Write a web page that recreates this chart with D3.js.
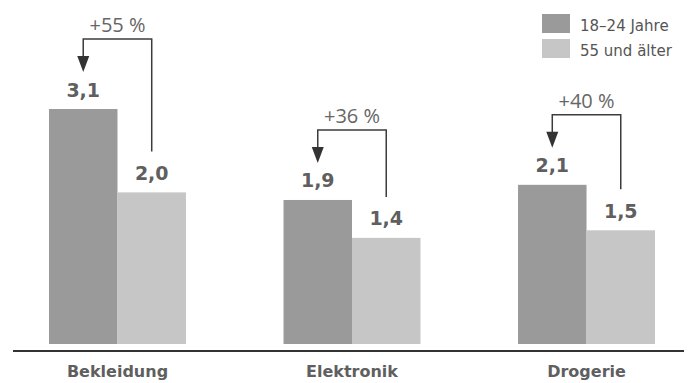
<!DOCTYPE html>
<html lang="de">
<head>
<meta charset="utf-8">
<script src="https://cdn.jsdelivr.net/npm/d3@7"></script>
<style>
  html, body { margin: 0; padding: 0; background: #fff; }
  svg { display: block; }
</style>
</head>
<body>
<svg id="chart" width="689" height="383"></svg>
<script>
// Categories, age groups and average values per group
const categories = ["Bekleidung", "Elektronik", "Drogerie"];
const seriesNames = ["18–24 Jahre", "55 und älter"];
const youngValues = [3.1, 1.9, 2.1];
const olderValues = [2.0, 1.4, 1.5];
const increasePct = [55, 36, 40];

const colors = { "18–24 Jahre": "#9a9a9a", "55 und älter": "#c5c6c5" };
const textGrey = "#5f5f5f";
const lineDark = "#3c3c3c";

const svg = d3.select("#chart");

const baseY = 344;
const y = d3.scaleLinear().domain([0, 4]).range([baseY, baseY - 4 * 75.8]);

const x0 = d3.scaleBand()
  .domain(categories)
  .range([49, 655])
  .paddingInner(0.416)
  .paddingOuter(0);

const x1 = d3.scaleBand()
  .domain(seriesNames)
  .range([0, x0.bandwidth()])
  .padding(0);

const rows = categories.map((c, i) => ({
  category: c,
  values: [
    { key: seriesNames[0], value: youngValues[i] },
    { key: seriesNames[1], value: olderValues[i] }
  ],
  pct: increasePct[i]
}));

const fmt = v => v.toFixed(1).replace(".", ",");

// Bars
const groups = svg.append("g").selectAll("g")
  .data(rows)
  .join("g")
  .attr("transform", d => `translate(${x0(d.category)},0)`);

groups.selectAll("rect")
  .data(d => d.values)
  .join("rect")
  .attr("x", d => x1(d.key))
  .attr("y", d => y(d.value))
  .attr("width", x1.bandwidth())
  .attr("height", d => y(0) - y(d.value))
  .attr("fill", d => colors[d.key]);

// Value labels above bars
groups.selectAll("text.val")
  .data(d => d.values)
  .join("text")
  .attr("class", "val")
  .attr("x", d => x1(d.key) + x1.bandwidth() / 2)
  .attr("y", d => y(d.value) - 12.5)
  .attr("text-anchor", "middle")
  .attr("font-family", "DejaVu Sans, sans-serif")
  .attr("font-weight", "bold")
  .attr("font-size", 19)
  .attr("fill", textGrey)
  .text(d => fmt(d.value));

// Bracket arrows from the older group's bar to the younger group's bar
const bracket = svg.append("g");
rows.forEach(d => {
  const xd = x0(d.category) + x1(seriesNames[0]) + x1.bandwidth() / 2;
  const xl = x0(d.category) + x1(seriesNames[1]) + x1.bandwidth() / 2;
  const topD = y(d.values[0].value);
  const topL = y(d.values[1].value);
  const yBr = topD - 70;
  const tip = topD - 37;
  const headLen = 16, headHalf = 6;

  bracket.append("path")
    .attr("d", `M${xl},${topL - 41}V${yBr}H${xd}V${tip - headLen + 1}`)
    .attr("fill", "none")
    .attr("stroke", lineDark)
    .attr("stroke-width", 1.5);

  bracket.append("path")
    .attr("d", `M${xd - headHalf},${tip - headLen}L${xd + headHalf},${tip - headLen}L${xd},${tip}Z`)
    .attr("fill", "#333");

  bracket.append("text")
    .attr("x", (xd + xl) / 2)
    .attr("y", yBr - 7)
    .attr("text-anchor", "middle")
    .attr("font-family", "Open Sans, sans-serif")
    .attr("font-weight", 400)
    .attr("font-size", 20)
    .attr("fill", "#666")
    .text(`+${d.pct} %`);
});

// Category axis
const axisY = 351;
const axis = svg.append("g")
  .attr("transform", `translate(0,${axisY})`)
  .call(d3.axisBottom(x0).tickSize(0).tickPadding(15));
axis.select(".domain").remove();
axis.selectAll("text")
  .attr("font-family", "DejaVu Sans, sans-serif")
  .attr("font-weight", "bold")
  .attr("font-size", 16)
  .attr("fill", textGrey);

svg.append("line")
  .attr("x1", 13).attr("x2", 684)
  .attr("y1", axisY).attr("y2", axisY)
  .attr("stroke", "#333")
  .attr("stroke-width", 2);

// Legend
const legend = svg.append("g").attr("transform", "translate(542,14)");
const items = legend.selectAll("g")
  .data(seriesNames)
  .join("g")
  .attr("transform", (d, i) => `translate(0,${i * 25})`);
items.append("rect")
  .attr("width", 28).attr("height", 19)
  .attr("fill", d => colors[d]);
items.append("text")
  .attr("x", 38).attr("y", 17)
  .attr("font-family", "DejaVu Sans, sans-serif")
  .attr("font-size", 15)
  .attr("fill", "#555")
  .text(d => d);
</script>
</body>
</html>
